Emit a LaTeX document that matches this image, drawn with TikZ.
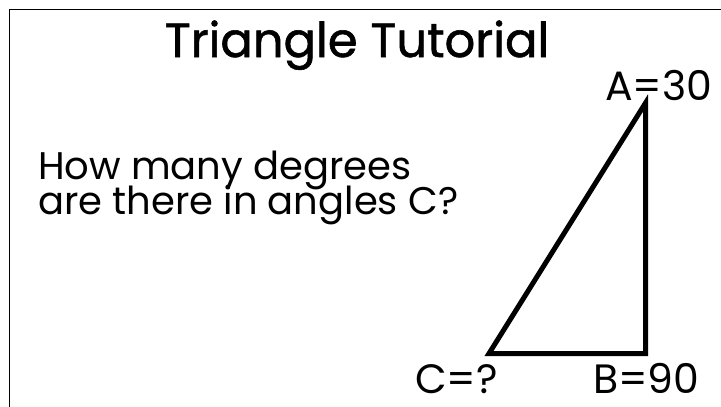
\documentclass[tikz,border=0pt]{standalone}
\usepackage{fontspec}
\setmainfont{Poppins}
\begin{document}
\begin{tikzpicture}[x=1pt,y=-1pt,
  txt/.style={inner sep=0pt,outer sep=0pt,font=\fontsize{38.5}{42}\selectfont},
  lbl/.style={inner sep=0pt,outer sep=0pt,font=\fontsize{41}{44}\selectfont},
  ttl/.style={inner sep=0pt,outer sep=0pt,font=\fontsize{48}{50}\selectfont\addfontfeature{FakeBold=1.2}},
  side/.style={line width=5pt,line join=miter}]
\useasboundingbox (0,0) rectangle (721,407);
\fill[white] (0,0) rectangle (721,407);
\begin{scope}
\clip (0,0) rectangle (721,407);
\draw[line width=1.6pt] (9.5,420) -- (9.5,9.5) -- (740,9.5);
\end{scope}
\node[ttl,anchor=base] (title) at (357,57) {Triangle Tutorial};
\node[txt,anchor=base west] (q1) at (38,179) {How many degrees};
\node[txt,anchor=base west] (q2) at (38,214) {are there in angles C?};
\coordinate (A) at (645.5,103);
\coordinate (B) at (645.5,353.5);
\coordinate (C) at (489,353.5);
\draw[side] (A) -- (B) -- (C) -- cycle;
\node[lbl,anchor=base west] (la) at (605,100) {A=30};
\node[lbl,anchor=base west] (lb) at (593,393) {B=90};
\node[lbl,anchor=base west] (lc) at (415,393) {C=?};
\end{tikzpicture}
\end{document}
